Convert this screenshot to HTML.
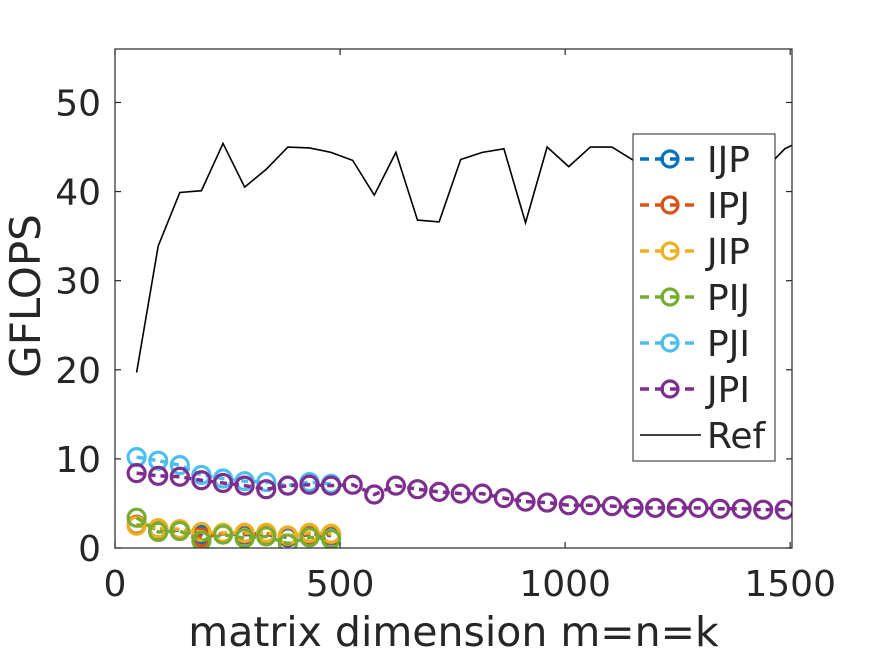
<!DOCTYPE html>
<html><head><meta charset="utf-8"><style>
body{margin:0;background:#fff;}
svg text{font-family:"DejaVu Sans","Liberation Sans",sans-serif;fill:#262626;}
</style></head><body>
<svg id="chart" width="875" height="656" viewBox="0 0 875 656" xmlns="http://www.w3.org/2000/svg">
<defs><clipPath id="pc"><rect x="115" y="49" width="677" height="499"/></clipPath></defs>
<rect width="875" height="656" fill="#fff"/>
<g id="marks" clip-path="url(#pc)"></g>
<g id="axes"></g>
<g id="legend"></g>
</svg>
<script>
const xsSmall=[48,96,144,192,240,288,336,384,432,480];
const xsAll=[48,96,144,192,240,288,336,384,432,480,528,576,624,672,720,768,816,864,912,960,1008,1056,1104,1152,1200,1248,1296,1344,1392,1440,1488];
const xsRef=[48,96,144,192,240,288,336,384,432,480,528,576,624,672,720,768,816,864,912,960,1008,1056,1104,1152,1200,1248,1296,1344,1392,1440,1488,1536];
const refVals=[19.7,33.9,39.9,40.1,45.4,40.5,42.5,45,44.9,44.4,43.5,39.6,44.4,36.8,36.6,43.6,44.4,44.8,36.5,45,42.8,45,45,43.5,44,44.5,43.8,44.2,43.5,42.3,44.8,46];
const ijpVals=[2.6,2.1,2.0,1.5,1.6,1.5,1.5,1.2,1.5,1.4];
const ipjVals=[2.6,2.2,2.1,1.2,1.6,1.6,1.6,1.3,1.6,1.5];
const jipVals=[2.5,2.2,2.1,1.8,1.7,1.7,1.7,1.4,1.7,1.6];
const pijVals=[3.4,1.8,1.9,0.8,1.5,1.1,1.3,0.5,1.2,1.0];
const pjiVals=[10.2,9.8,9.3,8.2,7.8,7.5,7.4,7.0,7.4,7.2];
const jpiVals=[8.4,8.1,8.0,7.6,7.3,7.0,6.6,7.0,7.1,7.0,7.1,6.0,7.0,6.6,6.3,6.1,6.1,5.6,5.2,5.1,4.8,4.8,4.7,4.5,4.5,4.5,4.5,4.4,4.4,4.3,4.3];
const xTicks=[0,500,1000,1500];
const yTicks=[0,10,20,30,40,50];
const seriesNames=["IJP","IPJ","JIP","PIJ","PJI","JPI"];

const L=115,R=792,T=49,B=548,XMAX=1504,YMAX=56;
const sx=v=>L+(R-L)*v/XMAX, sy=v=>B-(B-T)*v/YMAX;
const NS="http://www.w3.org/2000/svg";
function mk(tag,attrs,parent){const e=document.createElementNS(NS,tag);for(const k in attrs)e.setAttribute(k,attrs[k]);parent.appendChild(e);return e;}
const marks=document.getElementById('marks'),axes=document.getElementById('axes'),leg=document.getElementById('legend');

const series=[
 {name:"ijp",xs:xsSmall,v:ijpVals,c:"#0072BD"},
 {name:"ipj",xs:xsSmall,v:ipjVals,c:"#D95319"},
 {name:"jip",xs:xsSmall,v:jipVals,c:"#EDB120"},
 {name:"pij",xs:xsSmall,v:pijVals,c:"#77AC30"},
 {name:"pji",xs:xsSmall,v:pjiVals,c:"#4DBEEE"},
 {name:"jpi",xs:xsAll,v:jpiVals,c:"#7E2F8E"}];
series.forEach(s=>{
 const g=mk('g',{},marks);
 
 
 const pl=mk('polyline',{points:s.v.map((v,i)=>sx(s.xs[i])+','+sy(v)).join(' '),fill:'none',stroke:s.c,'stroke-width':3.5,'stroke-dasharray':'7,5'},g);
 
 
 s.v.forEach((v,i)=>{
  const c=mk('circle',{cx:sx(s.xs[i]),cy:sy(v),r:8.5,fill:'none',stroke:s.c,'stroke-width':3.2},g);
  
  
 });
});
const ref=mk('polyline',{points:refVals.map((v,i)=>sx(xsRef[i])+','+sy(v)).join(' '),fill:'none',stroke:'#000','stroke-width':1.6},marks);



const box=mk('rect',{x:L,y:T,width:R-L,height:B-T,fill:'none',stroke:'#262626','stroke-width':1.2},axes);


xTicks.forEach(t=>{
 const x=sx(t);
 mk('line',{x1:x,x2:x,y1:B,y2:B-6,stroke:'#262626','stroke-width':1.2},axes);
 mk('line',{x1:x,x2:x,y1:T,y2:T+6,stroke:'#262626','stroke-width':1.2},axes);
 const tx=mk('text',{x:x,y:B+48,'text-anchor':'middle','font-size':36},axes);
 tx.textContent=t;
 
 
});
yTicks.forEach(t=>{
 const y=sy(t);
 mk('line',{x1:L,x2:L+6,y1:y,y2:y,stroke:'#262626','stroke-width':1.2},axes);
 mk('line',{x1:R,x2:R-6,y1:y,y2:y,stroke:'#262626','stroke-width':1.2},axes);
 const tx=mk('text',{x:L-14,y:y+13,'text-anchor':'end','font-size':36},axes);
 tx.textContent=t;
 
 
});
const xt=mk('text',{x:(L+R)/2,y:646,'text-anchor':'middle','font-size':41},axes);
xt.textContent='matrix dimension m=n=k';


const yt=mk('text',{x:0,y:0,'text-anchor':'middle','font-size':42,transform:'translate(40,296) rotate(-90)'},axes);
yt.textContent='GFLOPS';



const lb=mk('rect',{x:633,y:134,width:142,height:327,fill:'#fff',stroke:'#262626','stroke-width':1},leg);


const rowH=46;
series.forEach((s,i)=>{
 const y=159+i*rowH;
 const g=mk('g',{},leg);
 
 
 mk('line',{x1:640,x2:699,y1:y,y2:y,stroke:s.c,'stroke-width':3.5,'stroke-dasharray':'9,6'},g);
 mk('circle',{cx:670,cy:y,r:8,fill:'none',stroke:s.c,'stroke-width':3.2},g);
 const t=mk('text',{x:707,y:y+13,'font-size':36,fill:'#000'},g);
 t.textContent=seriesNames[i];
});
const g=mk('g',{},leg);


const yr=159+6*rowH;
mk('line',{x1:640,x2:701,y1:yr,y2:yr,stroke:'#000','stroke-width':1.6},g);
const tr=mk('text',{x:707,y:yr+13,'font-size':36,fill:'#000'},g);
tr.textContent='Ref';
</script>
</body></html>
